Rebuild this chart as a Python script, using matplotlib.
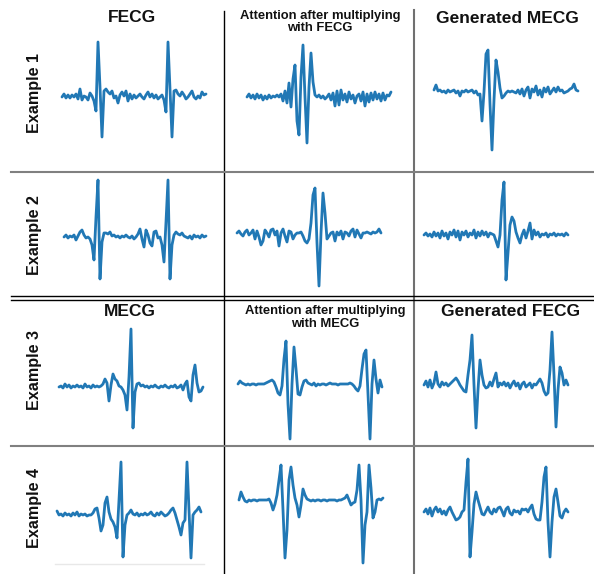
import numpy as np
import matplotlib.pyplot as plt

plt.rcParams['font.family'] = ['Liberation Sans', 'DejaVu Sans']

# Signal samples (amplitude relative to baseline, one sample every 2 px of trace)
ex1_fecg = [0, 3, -1, 2, -1, 2, 0, 3, -2, 8, -3, 1, 0, -3, 4, 1, -4,
            -14, 55, 10, -40,
            6, 8, 5, 3, 6, -1, 1, -6, 2, 5, 1, 6, -4, 3, -2, 2, -1, 1, 3, 0,
            -2, 2, 5, 0, 3, -1, 2, -2, 0, 2, -3,
            -15, 55, 8, -40,
            6, 7, 3, 1, 5, 2, -2, 0, 3, 6, 0, -2, 1, -1, 5, 2, 3]
ex1_attention = [0, 3, -1, 2, -2, 3, -1, 2, -3, 1, -2, 2, -1, 1, 0, 2, 0, 3, -4,
                 6, -6, 14, -10, 18, 32, -24, -38, 20, 52, 0, -46, 10, 44, 15, 2, 0, 2,
                 -1, 1, -2, 0, 3, -3, 4, -9, 6, -8, 7, -3, 3, -5, 5, -2, 2, -6, 1, 3,
                 -4, 5, -9, 3, -5, 4, -3, 5, -2, 3, -4, 4, -3, 2, 1, 5]
ex1_generated = [2, 7, 1, 2, 0, 1, -1, 2, 0, 1, 2, -1, 1, -4, 1, 0, 2, 0, 1, 2,
                 -1, 1, -3, -2,
                 -29, 0, 38, 42, -12, -58, -8, 32, 20, 4, -6, -4, -1,
                 1, 0, 1, 0, -1, 2, -2, 3, -4, 2, 5, -6, 3, 0, 6, -3, 2, -5, 4, 0,
                 5, -2, 1, 4, 0, 5, 1, 2, -1, 0, 1, 3, 4, 8, 2, 1]

ex2_fecg = [0, 2, -1, 1, 0, 2, -3, 1, 5, 7,
            2, -1, 0, -2, -8, -23, 20, 57, -42, -5,
            4, 4, 3, 5, 1, 2, 0, 1, -1, 1,
            0, 2, 0, -1, 1, -2, 0, 3, 8, -2,
            -10, 7, 2, -6, -9, 5, 6, -1, 0, -8,
            -25, 15, 57, -42, -8, 2, 5, 3, 2, 4,
            1, 0, -1, 1, -2, 2, 0, 1, -1, 2, 0, 1]
ex2_attention = [0, 2, -1, -3, 1, 3, -2, 0, 3, -6,
                 2, -4, -12, -8, 3, 0, -4, 3, 4, -2,
                 2, -13, 0, 4, -3, -9, 2, 1, -6, -2,
                 0, 0, 1, -3, -8, -10, -6, 10, 38, 45,
                 -10, -53, 0, 40, 20, -6, -3, 0, 1, -8,
                 1, -2, 2, -6, 1, 0, -3, 2, 4, -4,
                 3, -1, -5, 0, 0, 1, 0, -1, 1, 0, 1, 4, 0]
ex2_generated = [0, 2, -1, 1, -2, 3, -1, 2, -3, 4, -1, 2, -4, 3, 0, 5, -2, 4,
                 -5, 3, 0, 4, -2, 2, 0, 5, -3, 3, -1, 4, 0, 3, -2, 2, 1, 0,
                 -6, -12, 0, 35, 53, -45, -18, 10, 18, 14, 3, -3, -8,
                 0, 5, -3, 4, 12, -4, 5, 0, 3, -2, 1, 0, 2, -2, 1, 0, 2, -1,
                 1, 0, 1, -1, 2, 0]

ex3_mecg = [0, 1, -1, 3, 0, 2, -1, 1, 0, 2,
            0, 1, -1, 3, 0, 1, -1, 2, 0, 1,
            0, 1, 3, 8, 4, -14, 2, 13, 8, 6,
            1, 0, -3, -8, -23, 10, 58, -41, -5, 3,
            4, 1, 2, 0, 1, -1, 1, 0, 2, 0,
            -1, 1, 0, 2, 0, -1, 1, 0, 2, -1,
            0, 2, -3, 3, 6, -10, -14, 12, 22, 4, -5, -4, 0]
ex3_attention = [0, 3, 1, 0, -1, 0, -1, 0, 0, -1,
                 0, 0, 0, 0, 1, 2, 3, 4, 2, -3,
                 -9, -11, -2, 25, 43, -20, -55, 0, 37, 15,
                 -10, -11, -3, 3, 4, 1, 0, -1, 1, -2,
                 0, -1, 0, 0, -1, 0, 1, 0, 0, 0,
                 -1, 0, 0, 0, 0, 0, 1, 0, -2, -5,
                 -7, -2, 15, 30, 34, -10, -55, 0, 24, 5, -9, 4, -3]
ex3_generated = [0, 4, -2, 5, -3, 2, 13, 1, -2, 3,
                 0, 2, -1, 1, 3, 5, 7, 4, 0, -3,
                 -6, -7, 10, 25, 50, 0, -43, -5, 25, 10,
                 0, -3, -2, 3, -1, 6, 12, -2, 2, 0,
                 3, -1, 2, -3, 1, 4, -1, 2, -4, 1,
                 3, -2, 0, 2, -3, 1, 0, 3, 6, 2,
                 -6, -10, -8, 15, 53, 10, -42, -5, 18, 12, 0, 5, 0]

ex4_mecg = [4, 0, 1, -1, 2, 0, 1, -1, 2, 0, 3, -1, 1, 0, 1, -1, 0, 0, 2,
            6, 7, -3, -16, -10, 12, 18, 3, -4, -7, -12, -23, 15, 53, -42, -10,
            0, 2, 5, 1,
            0, 2, -1, 1, 0, 2, 0, 1, 3, 0, -1, 2, 0, 3, 1, -1, 0, 2, 5, 7,
            2, -5, -12, -20, -8, -5, 53, 5, -43, 0, 3, 5, 8, 3]
ex4_attention = [0, 8, 3, -1, -2, 0, -1, 0, 0, -1, 0, 0, 0, 0, 0, 1, -3, -10,
                 -4, 5, 20, 35,
                 -10, -58, -30, 20, 33, 15, 2, -5, -17, -5, 11, 5, 1,
                 0, -1, 0, -1, 0, 0, -1, 0, 0, -1, 0, 0, 0, 0, -1, 0, 0, 1, 2, 5,
                 0, -5, -3, -2, 10, 35, 0, -63, -25, -12, 35, 12, -18, -12, 0, 1,
                 0, 2]
ex4_generated = [0, 3, -2, 4, -4, 2, 5, 0, 3, -2, 1, -3, 2, 5, 0, -4, -8, -7,
                 -5, 0, 2, 30, 53, -45, -20, 8, 20, 12, 5, -2, -3,
                 1, 5, 0, -2, 3, 0, 4, 5, 1, -4, 3, 5, -1, -3, 2, 0, 1, -2, 3,
                 2, 3, 0, 4, 7, -2, -7, -8, -8, 10, 35, 45, -10, -45, -10, 15,
                 23, 10, -4, -6, 0, 3, 0]

row_labels = ['Example 1', 'Example 2', 'Example 3', 'Example 4']
top_titles = ['FECG', 'Attention after multiplying\nwith FECG', 'Generated MECG']
bottom_titles = ['MECG', 'Attention after multiplying\nwith MECG', 'Generated FECG']

W, H = 594, 574
fig = plt.figure(figsize=(W / 100, H / 100), dpi=100)

# background axes in pixel coordinates for the table rules and labels
bg = fig.add_axes([0, 0, 1, 1])
bg.set_xlim(0, W)
bg.set_ylim(H, 0)
bg.axis('off')

bg.plot([223.5, 223.5], [11, H], color='black', lw=1.0)
bg.plot([413.5, 413.5], [10, H], color='#707070', lw=1.5)
bg.plot([11, W], [172, 172], color='#808080', lw=1.5)
bg.plot([11, W], [296, 296], color='black', lw=1.0)
bg.plot([11, W], [299.5, 299.5], color='black', lw=1.0)
bg.plot([11, W], [445.5, 445.5], color='#808080', lw=1.5)
bg.plot([55, 204], [564, 564], color='#e8e8e8', lw=1.0)

# column headers
for x, y, t in zip([132, 320, 507], [18, 22, 18.5], top_titles):
    small = '\n' in t
    bg.text(x, y, t, ha='center', va='center', fontweight='bold',
            fontsize=9.4 if small else 12.5, linespacing=1.05, color='#111111')
for x, y, t in zip([130, 325, 511], [311, 317.5, 312], bottom_titles):
    small = '\n' in t
    bg.text(x, y, t, ha='center', va='center', fontweight='bold',
            fontsize=9.4 if small else 12.5, linespacing=1.05, color='#111111')

for y, t in zip([93, 235, 370, 508], row_labels):
    bg.text(35, y, t, ha='center', va='center', rotation=90,
            fontweight='bold', fontsize=11.6, color='#111111')

signals = [ex1_fecg, ex1_attention, ex1_generated,
           ex2_fecg, ex2_attention, ex2_generated,
           ex3_mecg, ex3_attention, ex3_generated,
           ex4_mecg, ex4_attention, ex4_generated]
# trace start (x) and baseline (y) of each cell, in pixels
anchors = [(62, 97), (247, 97), (434, 92),
           (64, 237), (237, 233), (424, 235),
           (59, 387), (238, 384), (424, 385),
           (57, 515), (239, 500), (424, 512)]

for sig, (x0, base) in zip(signals, anchors):
    s = np.asarray(sig, dtype=float)
    n = len(s)
    width = 2 * (n - 1)
    top = base - s.max()
    bottom = base - s.min()
    ax = fig.add_axes([x0 / W, (H - bottom) / H, width / W, (bottom - top) / H])
    ax.plot(np.arange(n), s, color='#2178b5', lw=2.0, clip_on=False,
            solid_joinstyle='round', solid_capstyle='round')
    ax.set_xlim(0, n - 1)
    ax.set_ylim(s.min(), s.max())
    ax.axis('off')

plt.savefig('out.png', dpi=100)
